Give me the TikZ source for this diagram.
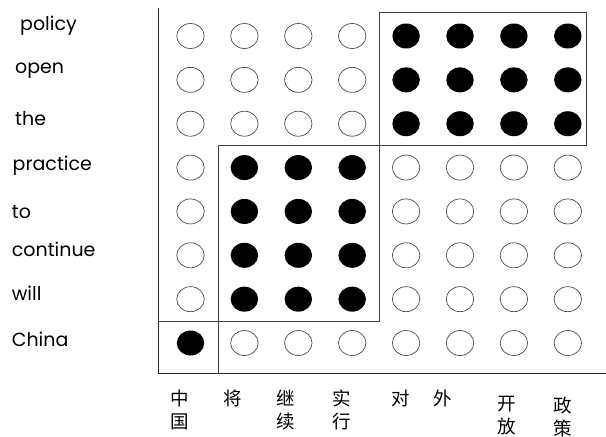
\documentclass[tikz,border=0pt]{standalone}
\usepackage{fontspec}
\setmainfont{Poppins}
\newfontfamily\cjk{Noto Sans CJK SC}
\usetikzlibrary{shapes.geometric}
\begin{document}
\begin{tikzpicture}[x=1pt,y=-1pt,
  dot/.style={ellipse,inner sep=0pt,minimum width=27.5pt,minimum height=25pt},
  offdot/.style={dot,draw=black!70,line width=0.7pt},
  ondot/.style={dot,fill=black},
  word/.style={anchor=base west,inner sep=0pt,font=\fontsize{19}{22}\selectfont},
  zh/.style={align=center,inner sep=0pt,font=\cjk\fontsize{18.5}{23}\selectfont},
  frame/.style={draw=black!75,line width=0.8pt},
  axis/.style={draw=black!85,line width=1pt}]
\useasboundingbox (0,0) rectangle (606,437);
% dots
\foreach \i in {0,...,7}{
  \foreach \j in {0,...,7}{
    \pgfmathtruncatemacro\f{or(or(and(\j<3,\i>3),and(and(\j>2,\j<7),and(\i>0,\i<4))),and(\j==7,\i==0))}
    \pgfmathsetmacro\cx{190.5+53.9*\i}
    \pgfmathsetmacro\cy{36+43.86*\j}
    \ifnum\f=1 \def\st{ondot}\else\def\st{offdot}\fi
    \node[\st] (c\i\j) at (\cx,\cy) {};
  }
}
% frames
\draw[frame] (379.3,12.3) rectangle (586.7,145);
\draw[frame] (218,145) -- (379.3,145) -- (379.3,321.7);
\draw[frame] (218,145) -- (218,373);
\draw[frame] (158,321.7) -- (379.3,321.7);
% axes
\draw[axis] (158,8) -- (158,373) -- (606,373);
% row words
\node[word] (w0) at (20,30.7) {policy};
\node[word] (w1) at (15,73.3) {open};
\node[word] (w2) at (15,125) {the};
\node[word] (w3) at (12.5,170) {practice};
\node[word] (w4) at (11.7,218.3) {to};
\node[word] (w5) at (11.7,256.7) {continue};
\node[word] (w6) at (11.7,300) {will};
\node[word] (w7) at (11.7,346.7) {China};
% column words
\node[zh] (z0) at (180,409.5) {中\\国};
\node[zh] (z1) at (233,398) {将};
\node[zh] (z2) at (286,409.5) {继\\续};
\node[zh] (z3) at (342,409.5) {实\\行};
\node[zh] (z4) at (401,398) {对};
\node[zh] (z5) at (443,398) {外};
\node[zh] (z6) at (507,416) {开\\放};
\node[zh] (z7) at (563,416.5) {政\\策};
\end{tikzpicture}
\end{document}
